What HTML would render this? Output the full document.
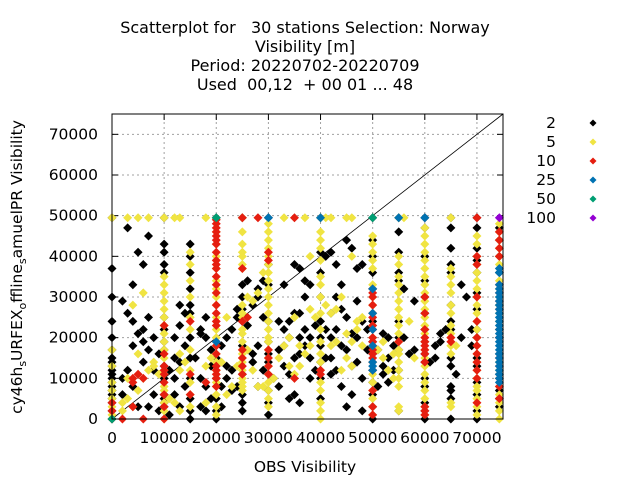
<!DOCTYPE html>
<html><head><meta charset="utf-8">
<style>
html,body{margin:0;padding:0;background:#fff;}
svg{display:block;font-family:"DejaVu Sans","Liberation Sans",sans-serif;}
</style></head>
<body>
<svg id="chart" width="640" height="480" viewBox="0 0 640 480">
<g font-size="16" text-anchor="middle" fill="#000">
<text x="305" y="33" xml:space="preserve">Scatterplot for   30 stations Selection: Norway</text>
<text x="305" y="52">Visibility [m]</text>
<text x="305" y="71">Period: 20220702-20220709</text>
<text x="305" y="90" xml:space="preserve">Used  00,12  + 00 01 ... 48</text>
</g>
<g id="grid"></g>
<g id="ticks" font-size="15.5" fill="#000"></g>
<line x1="112" y1="419" x2="503" y2="114" stroke="#000" stroke-width="0.8"/>
<g id="marks"></g>
<rect x="112" y="114" width="391" height="305" fill="none" stroke="#000" stroke-width="1"/>
<text x="305" y="472" font-size="15.5" text-anchor="middle">OBS Visibility</text>
<text transform="translate(22,267) rotate(-90)" font-size="15.5" text-anchor="middle">cy46h<tspan font-size="11" dy="4">s</tspan><tspan dy="-4">URFEX</tspan><tspan font-size="11" dy="4">o</tspan><tspan dy="-4">ffline</tspan><tspan font-size="11" dy="4">s</tspan><tspan dy="-4">amuelPR Visibility</tspan></text>
<g id="legend" font-size="15.5"></g>
</svg>
<script>
// values in thousands of metres
const xTicks = [0,10,20,30,40,50,60,70];
const yTicks = [0,10,20,30,40,50,60,70];
const seriesNames = ["2","5","10","25","50","100"];
const seriesColors = ["#000000","#f0e442","#e51e10","#0072b2","#009e73","#9400d3"];

const blackCols = [[0,[0,2,4,5,6,7,8,9,10,11,12,13,14,15,17,20,24,30,37,49.5]],[10,[3,5,6,10,13,17,19,22,25,36,38,41,43,49.5]],[15,[0,2,5,10,15,20,26,28,32,36,40,43]],[20,[0,2,5,10,15,49.5]],[25,[2,4,6,11,18,24,27,30,33,49.5]],[30,[1,4,7,11,14,16,19,24,33,38,49.5]],[40,[5,10,14,18,20,24,30,36,41,49.5]],[50,[0,3,6,9,12,16,19,24,32,36,40,44,49.5]],[55,[2,12,17,20,24,34,36,41,46,49.5]],[60,[0,2,4,8,10,14,16,19,22,26,30,34,40,47,49.5]],[65,[0,5,7,8,13,15,22,24,28,36,38,42,47,49.5]],[70,[0,2,6,9,13,15,20,22,27,31,36,39,42,47,49.5]],[74.3,[3,5,7,11,16,20,28,36,40,44,47]]];
const blackPts = [[2,10],[3,12],[4,18],[5,21],[6,22],[7,25],[3,26],[2,29],[4,33],[5,41],[7,45],[3,47],[6,38],[8,20],[9,16],[6,14],[4,8],[8,6],[5,3],[2,6],[7,3],[9,2],[10,4],[6,19],[4,24],[8,12],[7,17],[11,12],[12,15],[13,14],[14,18],[12,20],[13,23],[14,8],[12,6],[13,3],[11,1],[14,26],[12,10],[13,28],[17,21],[18,20],[19,17],[17,10],[18,8],[19,5],[17,3],[18,2],[16,15],[19,13],[18,25],[17,22],[21,18],[22,20],[23,22],[22,10],[23,12],[24,8],[21,8],[22,13],[24,27],[23,7],[21,3],[24,25],[27,28],[28,32],[29,34],[26,34],[27,14],[28,18],[29,12],[28,8],[27,16],[29,25],[26,23],[28,30],[32,24],[33,33],[34,24],[35,38],[36,37],[37,34],[38,33],[35,26],[36,26],[37,22],[36,20],[37,18],[38,15],[35,15],[33,18],[34,11],[36,4],[38,10],[39,12],[33,22],[31,10],[32,8],[35,6],[34,20],[37,30],[39,23],[38,20],[36,16],[33,13],[32,17],[34,5],[41,40],[42,41],[43,38],[44,33],[45,44],[46,42],[47,37],[48,38],[42,20],[43,22],[44,18],[45,25],[46,21],[47,20],[48,24],[41,15],[42,15],[43,12],[44,8],[45,17],[46,13],[47,14],[48,10],[49,17],[46,6],[45,3],[48,2],[42,26],[44,27],[43,30],[47,29],[49,22],[41,22],[42,11],[51,8],[52,13],[53,15],[54,18],[52,11],[53,9],[54,12],[51,17],[53,20],[52,21],[57,16],[58,17],[56,20],[56,32],[58,29],[61,14],[62,18],[63,21],[64,22],[63,19],[62,15],[66,11],[67,20],[68,30],[69,18],[69,22],[67,33]];
const yellowCols = [[0,[1,3,5,7,9,13,17,49.5]],[10,[0,2,4,7,11,12,15,17,19,21,23,25,27,29,31,33,35,49.5]],[15,[3,6,9,12,17,22,25,30,34,38,41]],[20,[1,3,6,9,12,14,16,18,20,22,25,28,30,32,34,37,40,43,46]],[25,[7,8,9,10,12,14,15,16,17,19,21,22,25,26,28,37,38,40,41,43,46,49.5]],[30,[3,5,7,9,11,13,15,17,19,20,22,24,26,28,30,32,34,36,38,40,42,44,46,48]],[40,[0,2,4,7,9,12,14,16,19,22,26,30,33,35,39,42,44,46,49.5]],[50,[1,3,5,7,9,11,14,18,20,23,26,28,30,33,37,39,41,43,45]],[55,[2,3,8,10,12,14,16,17,19,21,23,25,27,29,31,33,35,38,40,49.5]],[60,[1,3,5,7,9,11,13,15,17,19,21,23,25,27,29,31,33,35,37,39,41,43,45,47]],[65,[3,4,16,18,20,21,23,26,28,31,33,35,37,49.5]],[70,[1,3,5,7,8,10,12,14,16,18,20,22,24,26,28,30,32,34,36,38,40,43,45]],[74.3,[0,2,4,6,8,10,12,14,22,24,26,28,30,32,34,38,40,42,44,46,48]]];
const yellowPts = [[2,4],[3,5],[4,3],[5,7],[6,10],[7,12],[8,14],[5,16],[4,28],[6,31],[8,13],[9,11],[3,10],[2,2],[10,8],[12,4],[13,2],[11,5],[3,49.5],[5,49.5],[7,49.5],[13,12],[14,14],[13,16],[12,49.5],[13,49.5],[18,13],[19,15],[18,4],[18,49.5],[22,6],[23,8],[22,25],[24,13],[21,14],[26,30],[27,29],[28,31],[29,36],[28,8],[27,12],[26,17],[29,8],[31,10],[32,15],[33,18],[34,20],[35,25],[36,18],[37,16],[35,11],[36,13],[38,18],[39,25],[38,27],[33,49.5],[37,49.5],[38,40],[34,13],[41,28],[42,26],[43,27],[44,30],[45,21],[46,19],[47,22],[48,18],[44,12],[45,15],[46,13],[42,18],[43,19],[47,24],[48,25],[46,40],[45,49.5],[46,49.5],[42,49.5],[41,49.5],[51,17],[52,19],[53,12],[54,16],[54,10],[52,15],[57,24],[56,49.5],[58,15],[66,18]];
const redCols = [[0,[0,2,4]],[10,[0,3,6,9,11,12,13,16,23]],[15,[6,11,24]],[20,[8,10,11,12,13,16,18,19,23,24,26,28,31,33,35,37,38,39,41,43,44,45,46,47,48,49]],[25,[11,13,15,17,24,37,49.5]],[30,[11,13,15,17,39,41]],[40,[11,12]],[50,[1,3,7,12,14,15,16,17,18,19,20,22,23,25,26,28,30,31,32]],[60,[1,2,3,14,16,17,18,19,20,22,26,30]],[65,[19,20]],[70,[4,10,12,14,16,18,20,24,30,38,40,49.5]],[74.3,[5,8,10,13,15,20,22,27,29,31,33,40,42,44,46]]];
const redPts = [[4,10],[5,11],[6,10],[4,9],[2,0],[4,3],[6,0],[18,9],[26,25],[28,49.5],[35,49.5],[35,10],[55,19]];
const blueCols = [[50,[12,13,14,18,22,26,32]],[74.3,[9,10,11,12,13,14,15,16,17,18,19,20,21,22,23,24,25,26,27,28,29,30,31,32,33,36,37]]];
const bluePts = [[20,19],[30,49.5],[40,49.5],[55,49.5],[60,49.5]];
const greenPts = [[0,0],[20,49.5],[50,49.5]];
const purplePts = [[74.3,49.5]];

const NS = "http://www.w3.org/2000/svg";
const X0 = 112, X1 = 503, Y0 = 419, Y1 = 114, XMAX = 75, YMAX = 75;
function xs(v){ return X0 + v/XMAX*(X1-X0); }
function ys(v){ return Y0 - v/YMAX*(Y0-Y1); }
function mk(tag, attrs, parent){ const e=document.createElementNS(NS,tag); for(const k in attrs) e.setAttribute(k,attrs[k]); parent.appendChild(e); return e; }

const grid = document.getElementById('grid');
const ticks = document.getElementById('ticks');
xTicks.forEach(t=>{
  const x = xs(t);
  if (t>0) {
    const g = mk('line',{x1:x,y1:Y0,x2:x,y2:Y1,stroke:'#a0a0a0','stroke-width':1,'stroke-dasharray':'2,3'},grid);
    
    
  }
  mk('line',{x1:x,y1:Y0,x2:x,y2:Y0-6,stroke:'#000'},ticks);
  mk('line',{x1:x,y1:Y1,x2:x,y2:Y1+6,stroke:'#000'},ticks);
  const lb = mk('text',{x:x,y:443,'text-anchor':'middle'},ticks);
  lb.textContent = t===0 ? '0' : String(t*1000);
  
  
});
yTicks.forEach(t=>{
  const y = ys(t);
  if (t>0) {
    const g = mk('line',{x1:X0,y1:y,x2:X1,y2:y,stroke:'#a0a0a0','stroke-width':1,'stroke-dasharray':'2,3'},grid);
    
    
  }
  mk('line',{x1:X0,y1:y,x2:X0+6,y2:y,stroke:'#000'},ticks);
  mk('line',{x1:X1,y1:y,x2:X1-6,y2:y,stroke:'#000'},ticks);
  const lb = mk('text',{x:98,y:y+5,'text-anchor':'end'},ticks);
  lb.textContent = t===0 ? '0' : String(t*1000);
  
  
});

const marks = document.getElementById('marks');
function diamond(px,py,color,parent,r){
  r = r||4.5;
  const p = mk('path',{d:`M${px} ${py-r}L${px+r} ${py}L${px} ${py+r}L${px-r} ${py}Z`,fill:color},parent);
  return p;
}
function drawSeries(idx, cols, pts){
  const g = mk('g',{},marks);
  
  
  cols.forEach(c=>{ c[1].forEach(v=>{
    const p = diamond(xs(c[0]),ys(v),seriesColors[idx],g);
    
    
  });});
  pts.forEach(q=>{
    const p = diamond(xs(q[0]),ys(q[1]),seriesColors[idx],g);
    
    
  });
}
drawSeries(0, blackCols, blackPts);
drawSeries(1, yellowCols, yellowPts);
drawSeries(2, redCols, redPts);
drawSeries(3, blueCols, bluePts);
drawSeries(4, [], greenPts);
drawSeries(5, [], purplePts);

const legend = document.getElementById('legend');
seriesNames.forEach((n,i)=>{
  const y = 123 + i*19;
  const t = mk('text',{x:556,y:y+5,'text-anchor':'end'},legend);
  t.textContent = n;
  
  
  const d = diamond(593,y,seriesColors[i],legend,3.5);
  
  
});
</script>
</body></html>
